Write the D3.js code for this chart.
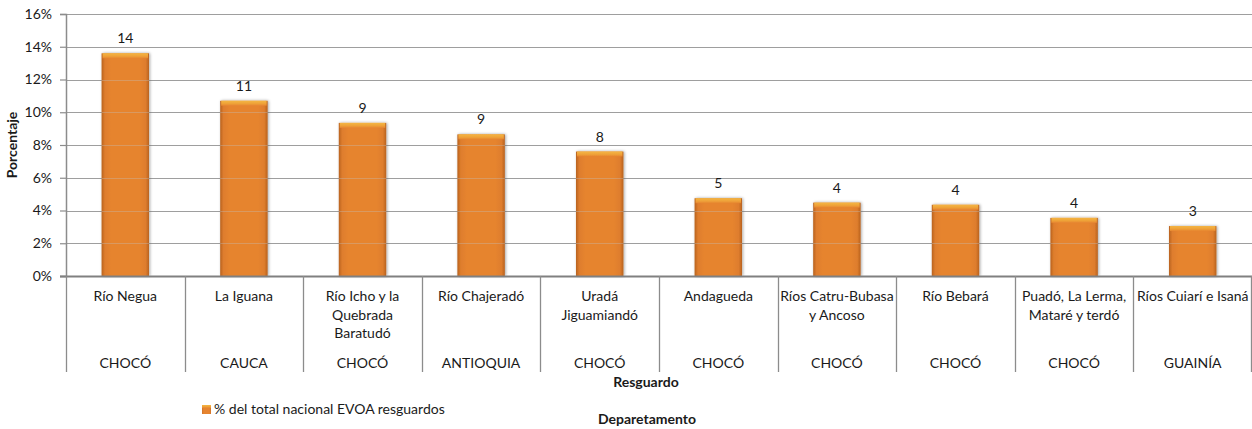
<!DOCTYPE html>
<html><head><meta charset="utf-8">
<script src="https://cdn.jsdelivr.net/npm/d3@7/dist/d3.min.js"></script>
<style>
body{margin:0;background:#fff;}
svg{display:block;font-family:Lato,"Open Sans",sans-serif;}
</style></head>
<body><svg id="c" width="1252" height="429"></svg>
<script>
const resguardos = [
  ["Río Negua"],
  ["La Iguana"],
  ["Río Icho y la","Quebrada","Baratudó"],
  ["Río Chajeradó"],
  ["Uradá","Jiguamiandó"],
  ["Andagueda"],
  ["Ríos Catru-Bubasa","y Ancoso"],
  ["Río Bebará"],
  ["Puadó, La Lerma,","Mataré y terdó"],
  ["Ríos Cuiarí e Isaná"]
];
const departamentos = ["CHOCÓ","CAUCA","CHOCÓ","ANTIOQUIA","CHOCÓ","CHOCÓ","CHOCÓ","CHOCÓ","CHOCÓ","GUAINÍA"];
const values = [13.6, 10.7, 9.35, 8.65, 7.6, 4.75, 4.48, 4.35, 3.55, 3.05];
const valueLabels = ["14","11","9","9","8","5","4","4","4","3"];
const yTicks = [0,2,4,6,8,10,12,14,16];
const seriesName = "% del total nacional EVOA resguardos";

const FS = 14;
const svg = d3.select("#c");
const L = 66, R = 1252, T = 14, B = 276;
const x = d3.scaleBand().domain(d3.range(values.length)).range([L, R]).padding(0);
const y = d3.scaleLinear().domain([0,16]).range([B, T]);

const defs = svg.append("defs");
const g1 = defs.append("linearGradient").attr("id","barH").attr("x1","0").attr("x2","1").attr("y1","0").attr("y2","0");
[["0%","#b8621f"],["7%","#de7d2d"],["20%","#e6842f"],["80%","#e6842f"],["93%","#de7d2d"],["100%","#b8621f"]]
  .forEach(s=>g1.append("stop").attr("offset",s[0]).attr("stop-color",s[1]));
const g2 = defs.append("linearGradient").attr("id","cap").attr("x1","0").attr("x2","0").attr("y1","0").attr("y2","1");
[["0%","#f4b642"],["60%","#eea038"],["100%","#e6842f"]]
  .forEach(s=>g2.append("stop").attr("offset",s[0]).attr("stop-color",s[1]));
const f = defs.append("filter").attr("id","sh").attr("x","-20%").attr("y","-10%").attr("width","140%").attr("height","120%");
f.append("feGaussianBlur").attr("in","SourceAlpha").attr("stdDeviation",1.5).attr("result","b");
f.append("feOffset").attr("in","b").attr("dx",1).attr("dy",0).attr("result","o");
f.append("feComponentTransfer").attr("in","o").attr("result","o2").append("feFuncA").attr("type","linear").attr("slope",0.35);
const fm = f.append("feMerge"); fm.append("feMergeNode").attr("in","o2"); fm.append("feMergeNode").attr("in","SourceGraphic");

// gridlines
svg.append("g").selectAll("line").data(yTicks.filter(d=>d>0)).join("line")
  .attr("x1",L).attr("x2",R).attr("y1",d=>Math.round(y(d))+0.5).attr("y2",d=>Math.round(y(d))+0.5)
  .attr("stroke","#8c8c8c").attr("stroke-width",1.2);

// bars
const bw = x.bandwidth()*0.4;
const bars = svg.append("g").selectAll("g").data(values).join("g").attr("filter","url(#sh)");
bars.append("rect")
  .attr("x",(d,i)=>x(i)+(x.bandwidth()-bw)/2).attr("width",bw)
  .attr("y",d=>y(d)).attr("height",d=>B-y(d)).attr("fill","url(#barH)");
bars.append("rect")
  .attr("x",(d,i)=>x(i)+(x.bandwidth()-bw)/2+1).attr("width",bw-2)
  .attr("y",d=>y(d)).attr("height",5).attr("fill","url(#cap)");

// faint gridlines over bars
svg.append("g").selectAll("line").data(yTicks.filter(d=>d>0)).join("line")
  .attr("x1",L).attr("x2",R).attr("y1",d=>Math.round(y(d))+0.5).attr("y2",d=>Math.round(y(d))+0.5)
  .attr("stroke","#c0c0c0").attr("stroke-opacity",0.35).attr("stroke-width",1);

// value labels
svg.append("g").selectAll("text").data(values).join("text")
  .attr("x",(d,i)=>x(i)+x.bandwidth()/2).attr("y",d=>y(d)-10)
  .attr("text-anchor","middle").attr("font-size",FS).attr("fill","#1a1a1a")
  .text((d,i)=>valueLabels[i]);

// y axis
const ya = svg.append("g").attr("transform",`translate(${L},0)`)
  .call(d3.axisLeft(y).tickValues(yTicks).tickSize(6).tickPadding(8).tickFormat(d=>d+"%"));
ya.select(".domain").attr("stroke","#8c8c8c").attr("stroke-width",1.5);
ya.selectAll(".tick line").attr("stroke","#8c8c8c").attr("stroke-width",1.2);
ya.selectAll("text").attr("font-size",FS).attr("fill","#1a1a1a").attr("font-family","Lato,'Open Sans',sans-serif");

// zero line
svg.append("line").attr("x1",L-6).attr("x2",R).attr("y1",B+0.5).attr("y2",B+0.5)
  .attr("stroke","#808080").attr("stroke-width",2);

// category separators
const seps = d3.range(values.length+1).map(i=> i<values.length ? x(i) : R-1);
svg.append("g").selectAll("line").data(seps).join("line")
  .attr("x1",d=>Math.round(d)+0.5).attr("x2",d=>Math.round(d)+0.5).attr("y1",B).attr("y2",372)
  .attr("stroke","#8c8c8c").attr("stroke-width",1.3);

// category labels
const cl = svg.append("g").selectAll("text").data(resguardos).join("text")
  .attr("text-anchor","middle").attr("font-size",FS).attr("fill","#1a1a1a");
cl.each(function(lines,i){
  const t = d3.select(this);
  lines.forEach((ln,j)=>t.append("tspan").attr("x",x(i)+x.bandwidth()/2).attr("y",301+j*18.5).text(ln));
});
svg.append("g").selectAll("text").data(departamentos).join("text")
  .attr("x",(d,i)=>x(i)+x.bandwidth()/2).attr("y",368)
  .attr("text-anchor","middle").attr("font-size",FS).attr("fill","#1a1a1a").text(d=>d);

// axis titles
svg.append("text").attr("x",646).attr("y",387).attr("text-anchor","middle")
  .attr("font-size",FS).attr("font-weight","bold").attr("fill","#1a1a1a").text("Resguardo");
svg.append("text").attr("x",647).attr("y",424).attr("text-anchor","middle")
  .attr("font-size",FS).attr("font-weight","bold").attr("fill","#1a1a1a").text("Deparetamento");
svg.append("text").attr("transform","translate(17,145) rotate(-90)").attr("text-anchor","middle")
  .attr("font-size",FS).attr("font-weight","bold").attr("fill","#1a1a1a").text("Porcentaje");

// legend
const lg = svg.append("g").attr("transform","translate(202,405)");
lg.append("rect").attr("width",9).attr("height",9).attr("fill","url(#barH)");
lg.append("rect").attr("width",9).attr("height",3).attr("fill","url(#cap)");
lg.append("text").attr("x",12).attr("y",9).attr("font-size",FS).attr("fill","#1a1a1a").text(seriesName);
</script>
</body></html>
